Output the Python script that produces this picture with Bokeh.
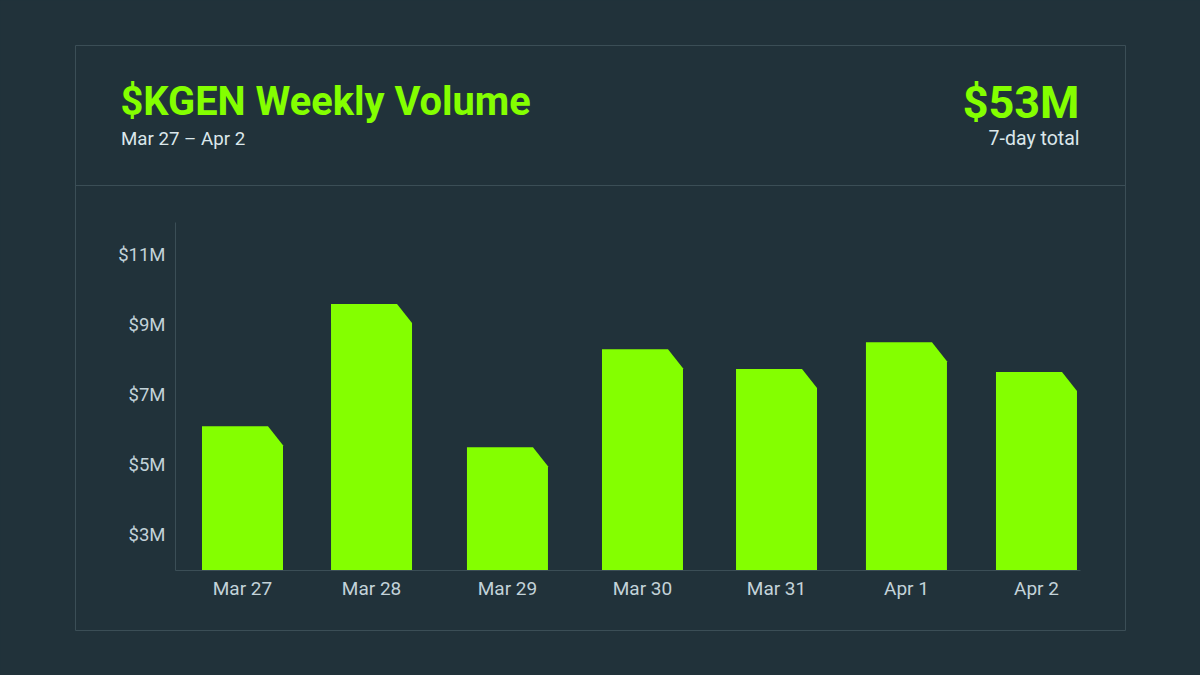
from bokeh.embed import file_html
from bokeh.resources import INLINE
from bokeh.plotting import figure
from bokeh.models import ColumnDataSource, Range1d, FixedTicker, Label, BoxAnnotation, LinearAxis

# ---- data ----
days = ["Mar 27", "Mar 28", "Mar 29", "Mar 30", "Mar 31", "Apr 1", "Apr 2"]
volume_musd = [6.11, 9.60, 5.51, 8.31, 7.74, 8.51, 7.66]
y_ticks = [3, 5, 7, 9, 11]
y_tick_labels = ["$3M", "$5M", "$7M", "$9M", "$11M"]
title_text = "$KGEN Weekly Volume"
subtitle_text = "Mar 27 \u2013 Apr 2"
total_text = "$53M"
total_caption = "7-day total"

# ---- layout / style ----
BG = "#21323a"
GREEN = "#84ff00"
LINE = "#3b4e56"
TICK = "#c3d3d9"
TEXT = "#dbe7eb"
W, H = 1200, 675
L, R, T, B = 175, 1080, 222, 569.5     # axis extents in window px
UNIT = 132.33                          # px per day slot
X0 = 242                               # window px of first slot
PX_PER_M = 35
# the bars in the reference sit slightly off an even grid (px)
slot_nudge_px = [0, -3.3, 0.3, 3, 4.7, 2.3, 0]
BAR_W = 81 / UNIT
CUT_X = 15 / UNIT
CUT_Y = 19 / PX_PER_M
Y_MIN = 2.0

centers = [i + n / UNIT for i, n in enumerate(slot_nudge_px)]
xs, ys = [], []
for c, v in zip(centers, volume_musd):
    a, b = c - BAR_W / 2, c + BAR_W / 2
    xs.append([a, a, b - CUT_X, b, b])
    ys.append([Y_MIN, v, v, v - CUT_Y, Y_MIN])
src = ColumnDataSource(dict(xs=xs, ys=ys, day=days, volume=volume_musd))


def data_x(px):
    return (px - X0) / UNIT


def data_y(py):
    return Y_MIN + (B - py) / PX_PER_M


p = figure(
    width=W, height=H, output_backend="svg", toolbar_location=None,
    x_range=Range1d(data_x(0), data_x(W)),
    y_range=Range1d(data_y(H), data_y(0)),
    x_axis_type=None, y_axis_type=None,
    min_border=0, min_border_left=0, min_border_right=0, min_border_top=0, min_border_bottom=0,
    background_fill_color=BG, border_fill_color=BG, outline_line_color=None,
)
p.grid.visible = False
p.patches("xs", "ys", source=src, fill_color=GREEN, line_color=None)

xaxis = LinearAxis(
    fixed_location=Y_MIN, bounds=(data_x(L), data_x(R)),
    ticker=FixedTicker(ticks=centers),
    major_label_overrides=dict(zip(centers, days)),
    major_label_standoff=1,
    major_label_text_font_size="19px",
)
yaxis = LinearAxis(
    fixed_location=data_x(L), bounds=(Y_MIN, data_y(T)),
    ticker=FixedTicker(ticks=y_ticks),
    major_label_overrides=dict(zip(y_ticks, y_tick_labels)),
    major_label_standoff=4,
    major_label_text_font_size="18.5px",
)
for ax in (xaxis, yaxis):
    ax.axis_line_color = LINE
    ax.axis_line_width = 1
    ax.major_tick_line_color = None
    ax.minor_tick_line_color = None
    ax.major_label_text_color = TICK
    ax.major_label_text_font = "Roboto"
p.add_layout(xaxis, "below")
p.add_layout(yaxis, "left")


def wy(y):
    return H - y


for top, bottom in ((45, 630), (185, 185)):
    p.add_layout(BoxAnnotation(left=75, right=1125, bottom=wy(bottom), top=wy(top),
                               left_units="screen", right_units="screen",
                               bottom_units="screen", top_units="screen",
                               fill_alpha=0, line_color=LINE, line_alpha=1, line_width=1, level="underlay"))


def label(x, y, text, size, color, weight="normal", align="left"):
    # y is the wanted baseline in window px; Bokeh sets this text about 0.36 em lower
    p.add_layout(Label(x=x, y=wy(y - 0.36 * size), x_units="screen", y_units="screen", text=text,
                       text_font="Roboto", text_font_size=f"{size}px", text_color=color,
                       text_font_style=weight, text_align=align, text_baseline="alphabetic"))


label(120, 115, title_text, 39.8, GREEN, "bold")
label(120.5, 145, subtitle_text, 18.7, TEXT)
label(1079, 118, total_text, 45, GREEN, "bold", "right")
label(1079, 145, total_caption, 19.5, TEXT, "normal", "right")

html = file_html(p, INLINE)
html = html.replace("<head>", "<head><style>html,body{background:%s}</style>" % BG, 1)
open("out.html", "w").write(html)
